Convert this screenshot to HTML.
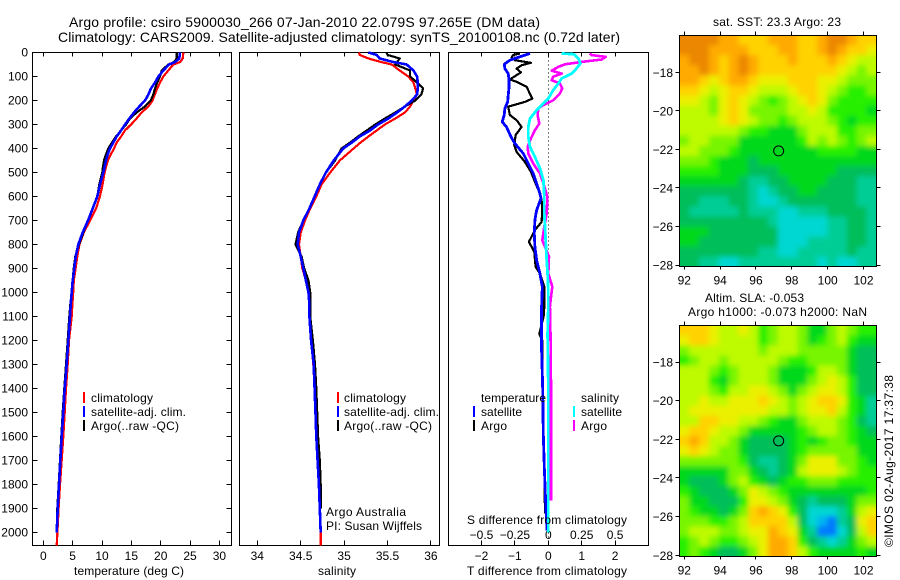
<!DOCTYPE html>
<html>
<head>
<meta charset="utf-8">
<title>Argo profile</title>
<style>
html,body{margin:0;padding:0;background:#fff;}
svg{display:block;}
text{font-family:"Liberation Sans",sans-serif;font-size:12px;fill:#000;}
.title{font-size:14px;}
</style>
</head>
<body>
<svg id="chart" xmlns="http://www.w3.org/2000/svg" width="900" height="580" viewBox="0 0 900 580">
<defs>
<clipPath id="clip-map1"><rect x="679.5" y="35.5" width="197" height="231"/></clipPath>
<clipPath id="clip-map2"><rect x="679.5" y="325.5" width="197" height="231"/></clipPath>
<filter id="soft1" filterUnits="userSpaceOnUse" x="650" y="5" width="250" height="290"><feGaussianBlur stdDeviation="2.6"/></filter>
<filter id="soft2" filterUnits="userSpaceOnUse" x="650" y="295" width="250" height="285"><feGaussianBlur stdDeviation="2.6"/></filter>
</defs>
<text class="title" x="69" y="27" textLength="471">Argo profile: csiro 5900030_266 07-Jan-2010 22.079S 97.265E (DM data)</text>
<text class="title" x="58" y="42" textLength="562">Climatology: CARS2009. Satellite-adjusted climatology: synTS_20100108.nc (0.72d later)</text>
<g id="map1"></g>
<g id="map2"></g>
<g id="axes"></g>
<g id="series"></g>

<text x="74" y="575" textLength="110">temperature (deg C)</text>
<text x="318" y="575" textLength="38">salinity</text>
<text x="467" y="524" textLength="160">S difference from climatology</text>
<text x="467" y="575" textLength="160">T difference from climatology</text>

<g>
<rect x="83" y="392" width="2" height="11" fill="#f00"/>
<rect x="83" y="406" width="2" height="11" fill="#00f"/>
<rect x="83" y="420" width="2" height="11" fill="#000"/>
<text x="91" y="402" textLength="62">climatology</text>
<text x="91" y="416" textLength="95">satellite-adj. clim.</text>
<text x="91" y="430" textLength="88">Argo(..raw -QC)</text>
</g>
<g>
<rect x="337" y="392" width="2" height="11" fill="#f00"/>
<rect x="337" y="406" width="2" height="11" fill="#00f"/>
<rect x="337" y="420" width="2" height="11" fill="#000"/>
<text x="344" y="402" textLength="62">climatology</text>
<text x="344" y="416" textLength="95">satellite-adj. clim.</text>
<text x="344" y="430" textLength="88">Argo(..raw -QC)</text>
</g>
<text x="326" y="516" textLength="80">Argo Australia</text>
<text x="326" y="530" textLength="96">PI: Susan Wijffels</text>
<g>
<rect x="473" y="406" width="2" height="11" fill="#00f"/>
<rect x="473" y="420" width="2" height="11" fill="#000"/>
<rect x="573" y="406" width="2" height="11" fill="#0ff"/>
<rect x="573" y="420" width="2" height="11" fill="#f0f"/>
<text x="481" y="402" textLength="65">temperature</text>
<text x="481" y="416" textLength="41">satellite</text>
<text x="481" y="430" textLength="26">Argo</text>
<text x="581" y="402" textLength="38">salinity</text>
<text x="581" y="416" textLength="41">satellite</text>
<text x="581" y="430" textLength="26">Argo</text>
</g>
<text x="713" y="26" textLength="128">sat. SST: 23.3 Argo: 23</text>
<text x="705" y="302" textLength="99">Altim. SLA: -0.053</text>
<text x="688" y="316" textLength="179">Argo h1000: -0.073 h2000: NaN</text>
<text transform="translate(893,547) rotate(-90)" textLength="172">©IMOS 02-Aug-2017 17:37:38</text>
</svg>
<script>
var depthTicks = [0,100,200,300,400,500,600,700,800,900,1000,1100,1200,1300,1400,1500,1600,1700,1800,1900,2000];
var temperatureTicks = [0,5,10,15,20,25,30];
var salinityTicks = [34,34.5,35,35.5,36];
var salinityTickLabels = ['34','34.5','35','35.5','36'];
var tDiffTicks = [-2,-1,0,1,2];
var sDiffTicks = [-0.5,-0.25,0,0.25,0.5];
var sDiffTickLabels = ['\u22120.5','\u22120.25','0','0.25','0.5'];
var lonTicks = [92,94,96,98,100,102];
var latTicks = [-18,-20,-22,-24,-26,-28];
var argoLon = [97.265];
var argoLat = [-22.079];

var tempDepths = [0,25,40,50,75,100,125,150,175,200,225,250,275,300,325,350,375,400,425,450,475,500,550,600,650,700,750,800,850,900,950,1000,1050,1100,1200,1300,1400,1500,1600,1700,1800,1900,2000,2055];
var tempClim = [23.86,23.75,23.3,22.15,21.3,20.45,19.9,19.4,19.0,18.6,17.9,16.75,15.9,14.95,13.9,13.25,12.5,12.05,11.5,11.0,10.7,10.45,10.1,9.65,9.0,7.95,6.9,6.15,5.8,5.5,5.2,5.1,4.95,4.83,4.37,4.15,3.87,3.65,3.4,3.13,2.85,2.6,2.4,2.28];
var tempSat = [23.29,23.17,22.43,21.41,20.45,19.6,19.03,18.35,17.9,17.32,16.35,15.45,14.66,13.92,13.24,12.5,11.93,11.36,10.97,10.68,10.46,10.22,9.66,9.2,8.42,7.62,6.71,5.96,5.52,5.28,5.0,4.84,4.67,4.55,4.26,3.99,3.65,3.41,3.13,2.9,2.67,2.45,2.28];
var tempArgo = [22.73,22.73,22.27,21.3,20.17,19.88,19.42,19.03,18.74,18.3,17.32,15.9,14.77,14.09,13.24,12.38,11.7,11.07,10.68,10.34,10.17,10.05,9.54,9.2,8.42,7.62,6.81,6.08,5.45,5.18,5.0,4.84,4.6,4.43,4.15,3.87,3.58,3.3,3.07,2.85,2.62,2.38,2.28];

var salDepths = [0,10,25,40,50,75,100,125,150,175,200,225,250,275,300,325,350,375,400,450,500,550,600,650,700,750,800,850,900,950,1000,1050,1100,1200,1300,1400,1500,1600,1700,1800,1900,2000,2055];
var salClim = [35.17,35.18,35.28,35.43,35.55,35.64,35.74,35.80,35.82,35.84,35.80,35.76,35.70,35.59,35.47,35.375,35.28,35.19,35.11,34.95,34.84,34.74,34.68,34.61,34.55,34.50,34.48,34.50,34.52,34.56,34.59,34.60,34.60,34.62,34.645,34.66,34.67,34.68,34.695,34.71,34.72,34.73,34.73];
var salSat = [35.28,35.375,35.41,35.57,35.72,35.80,35.84,35.85,35.85,35.84,35.78,35.70,35.61,35.51,35.39,35.30,35.18,35.09,34.99,34.88,34.79,34.72,34.66,34.60,34.53,34.48,34.465,34.50,34.53,34.56,34.59,34.60,34.60,34.62,34.65,34.66,34.67,34.68,34.695,34.71,34.72,34.73];
var salArgo = [35.49,35.50,35.64,35.61,35.59,35.76,35.76,35.84,35.91,35.89,35.82,35.70,35.59,35.47,35.36,35.26,35.16,35.07,34.97,34.895,34.79,34.72,34.66,34.60,34.53,34.47,34.44,34.51,34.54,34.59,34.61,34.61,34.61,34.64,34.665,34.68,34.69,34.70,34.72,34.73,34.735];

var tDiffArgoDepths = [4,10,21,32,43,53,67,83,94,112,122,143,192,206,226,261,282,310,344,386,414,456,497,546,588,615,657,706,740,789,831,893,921,976,1060,1100,1172,1200,1400,1600,1800,1920];
var tDiffArgo = [-0.85,-1.05,-1.10,-1.0,-0.52,-0.80,-0.95,-0.82,-0.95,-1.15,-0.95,-0.65,-0.48,-0.70,-1.2,-1.15,-0.95,-0.80,-0.98,-1.02,-0.95,-0.70,-0.52,-0.38,-0.25,-0.20,-0.18,-0.20,-0.40,-0.58,-0.42,-0.38,-0.25,-0.12,-0.12,-0.14,-0.27,-0.18,-0.17,-0.15,-0.11,-0.10];
var tDiffSatDepths = [4,18,32,49,67,88,108,150,206,233,261,289,310,351,379,421,463,504,546,588,608,657,699,754,810,865,921,976,1060,1242,1380,1589,1727,1867,1992];
var tDiffSat = [-0.55,-0.85,-1.15,-1.32,-1.30,-1.20,-1.18,-1.18,-1.22,-1.30,-1.32,-1.38,-1.25,-1.12,-1.0,-0.75,-0.60,-0.45,-0.35,-0.25,-0.22,-0.35,-0.40,-0.42,-0.40,-0.35,-0.25,-0.18,-0.20,-0.20,-0.17,-0.15,-0.12,-0.08,-0.04];
var sDiffSatDepths = [4,7,25,46,67,88,108,129,157,192,212,240,275,310,351,393,435,483,532,601,671,726,810,865,921,990,1060,1172,1400,1700,2000];
var sDiffSat = [0.10,0.19,0.225,0.24,0.21,0.175,0.10,0.075,0.037,0,-0.037,-0.087,-0.137,-0.15,-0.15,-0.137,-0.10,-0.062,-0.037,-0.03,-0.03,-0.025,-0.017,-0.012,-0.005,0,0,-0.005,0,0,0];
var sDiffArgoDepths = [4,11,18,29,39,49,60,76,88,101,115,129,150,171,199,219,233,261,296,324,358,393,421,463,504,546,601,671,726,782,810,851,921,976,1018,1060,1102,1380,1589,1867];
var sDiffArgo = [0.31,0.325,0.43,0.40,0.25,0.125,0.075,0.025,0.10,0.037,0.025,0.087,0.105,0.087,0.037,-0.037,-0.075,-0.08,-0.067,-0.10,-0.13,-0.155,-0.15,-0.112,-0.062,-0.037,-0.007,-0.012,-0.03,-0.045,-0.025,0.005,0,0.03,0.02,0.012,0.015,0.02,0.02,0.02];

var sstLevels = [
[12,12,12,12,11,11,10,10,10,11,11,11,10,10,11,12,12,11,10,10],
[12,12,12,11,11,11,11,10,10,10,11,11,10,10,11,12,11,10,10,9],
[11,12,12,11,10,11,12,11,10,10,10,11,10,10,10,11,10,9,8,8],
[11,11,12,11,10,11,12,11,10,10,10,10,10,10,10,10,9,8,7,8],
[11,11,10,9,10,11,11,10,9,9,9,10,10,10,9,9,8,7,7,7],
[10,10,9,8,9,10,10,9,8,8,8,9,10,10,9,8,7,6,6,7],
[9,9,8,7,9,10,9,8,7,6,7,8,9,10,9,7,6,6,6,6],
[8,8,8,7,9,10,9,7,7,7,7,8,8,9,8,6,6,6,6,5],
[8,8,8,8,9,10,9,8,7,7,6,7,8,8,8,7,6,5,6,6],
[8,8,8,8,8,8,7,6,6,5,5,5,7,8,8,8,6,6,7,7],
[7,8,8,7,7,7,5,5,5,5,5,5,6,8,7,8,7,6,7,8],
[8,8,7,7,7,6,5,5,5,5,5,5,5,5,6,6,6,6,5,5],
[7,7,7,6,5,5,5,4,5,5,5,5,5,5,5,5,5,5,5,5],
[6,6,6,6,5,5,5,4,4,4,5,5,5,5,5,5,4,4,4,4],
[5,5,5,5,5,5,4,3,3,4,4,5,5,5,5,4,4,4,3,3],
[4,4,4,4,4,4,4,3,2,3,4,4,5,5,4,4,4,4,3,3],
[4,4,3,3,3,4,4,3,2,2,3,4,4,4,4,4,4,4,3,3],
[4,3,3,3,3,3,4,3,3,3,2,2,3,3,3,4,4,4,4,3],
[4,4,4,4,4,4,4,4,4,3,2,2,2,2,2,3,3,4,4,3],
[5,5,5,4,4,4,4,4,4,4,2,2,2,2,2,3,3,4,4,3],
[5,5,4,4,4,4,4,4,4,4,2,2,2,3,3,3,3,4,4,3],
[4,4,4,4,4,4,4,4,3,3,2,2,3,3,3,3,3,4,3,3],
[4,4,3,3,2,2,3,3,3,3,3,3,3,3,2,3,2,2,3,3]
];
var slaLevels = [
[10,10,10,9,8,8,9,8,6,7,8,8,7,5,5,7,8,7,6,6],
[9,10,10,9,8,8,8,8,6,7,8,8,7,5,6,7,8,6,5,5],
[7,8,8,8,8,8,8,8,7,8,8,8,7,7,7,7,7,5,4,4],
[6,7,8,8,7,8,8,8,8,8,7,6,6,7,7,7,7,5,4,4],
[8,8,8,7,6,7,8,8,8,7,5,5,5,6,8,8,7,5,4,4],
[8,8,8,6,5,7,8,8,8,7,5,5,5,7,8,9,8,6,4,4],
[8,8,8,7,6,8,8,9,9,8,7,5,7,8,9,9,8,6,4,4],
[8,8,9,8,8,9,9,9,10,9,8,7,8,9,10,10,9,6,5,3],
[8,9,9,9,9,9,9,9,9,8,8,7,8,9,9,10,8,6,5,3],
[8,8,10,10,9,9,8,8,7,6,5,5,7,8,8,8,7,6,4,3],
[9,10,10,9,8,8,7,5,5,5,5,5,6,7,8,8,7,6,5,4],
[10,11,10,8,8,7,5,4,4,4,4,5,6,5,6,7,7,6,5,5],
[9,10,9,8,7,7,5,4,4,4,4,5,6,7,7,7,7,7,5,5],
[7,7,7,7,7,7,6,4,3,3,4,5,7,9,9,9,7,7,6,5],
[5,5,5,5,5,7,7,5,4,3,4,5,8,9,9,9,8,7,6,6],
[5,4,4,4,5,7,8,6,5,4,5,6,6,7,7,7,6,6,6,6],
[6,5,4,4,4,5,7,9,8,7,6,5,5,5,5,5,5,5,5,6],
[7,5,5,4,4,4,6,9,9,8,7,5,4,3,4,4,4,5,7,7],
[7,6,5,5,4,5,7,10,11,10,9,6,4,2,2,2,3,5,8,9],
[7,7,7,6,6,7,8,10,10,10,10,8,4,2,1,0,3,4,9,10],
[7,8,8,8,7,7,8,9,9,11,10,9,5,3,0,0,2,4,8,10],
[6,7,8,7,6,6,7,8,9,11,11,10,6,4,3,2,3,5,7,8],
[6,7,6,5,4,4,5,7,9,11,11,10,8,6,5,5,5,5,6,5]
];

var SVGNS = 'http://www.w3.org/2000/svg';
var levelColors = ['#0078ff','#00b4f0','#00d7d2','#00cd96','#00be5a','#00d81e','#28f000','#78f500','#beFA00','#ebf000','#ffd200','#ffaa00','#eb8700'];
function node(parent, tag, attrs, txt){
  var el = document.createElementNS(SVGNS, tag);
  for (var k in attrs) el.setAttribute(k, attrs[k]);
  if (txt !== undefined) el.textContent = txt;
  parent.appendChild(el);
  return el;
}
var DEPTH_Y0 = 52.5, DEPTH_K = 0.24, TOP = 52.5, BOTTOM = 545.5;
function depthY(d){ return DEPTH_Y0 + d * DEPTH_K; }
function tempX(t){ return 43.3 + t * 5.87; }
function salX(s){ return 257.3 + (s - 34) * 86.8; }
function tDiffX(t){ return 548.3 + t * 33.4; }
function sDiffX(s){ return 548.3 + s * 133.6; }
function lonX(lon){ return 684.3 + (lon - 92) * 17.92; }
function lat1Y(lat){ return 72.3 + (-18 - lat) * 19.27; }
function lat2Y(lat){ return 362 + (-18 - lat) * 19.33; }
var axes = document.getElementById('axes');
var seriesLayer = document.getElementById('series');
var panels = [[32.5,231.5,'temperature-panel'],[239.5,439.5,'salinity-panel'],[448.5,648.5,'difference-panel']];
panels.forEach(function(p){
  var r = node(axes,'rect',{x:p[0],y:TOP,width:p[1]-p[0],height:BOTTOM-TOP,fill:'none',stroke:'#000','stroke-width':1,'shape-rendering':'crispEdges'});
  
  
});
function tickLine(x1,y1,x2,y2){
  return node(axes,'line',{x1:x1,y1:y1,x2:x2,y2:y2,stroke:'#000','stroke-width':1,'shape-rendering':'crispEdges'});
}
depthTicks.forEach(function(d){
  var y = Math.round(depthY(d) - 0.5) + 0.5;
  var a = tickLine(32.5,y,37.5,y);
  
  
  var b = tickLine(226.5,y,231.5,y);
  
  
  var t = node(axes,'text',{x:28,y:depthY(d)+4,'text-anchor':'end'},String(d));
  
  
});
function xTicks(vals, labels, fn, labelY, tickName, labelName){
  vals.forEach(function(v,i){
    var x = Math.round(fn(v) - 0.5) + 0.5;
    var a = tickLine(x,TOP,x,TOP+4);
    
    
    var b = tickLine(x,BOTTOM-5,x,BOTTOM);
    
    
    var t = node(axes,'text',{x:fn(v),y:labelY,'text-anchor':'middle'},labels[i]);
    
    
  });
}
xTicks(temperatureTicks, temperatureTicks.map(String), tempX, 560, 'temperature-tick', 'temperature-tick-label');
xTicks(salinityTicks, salinityTickLabels, salX, 560, 'salinity-tick', 'salinity-tick-label');
xTicks(tDiffTicks, tDiffTicks.map(function(v){return String(v).replace('-','\u2212');}), tDiffX, 560, 't-difference-tick', 't-difference-tick-label');
sDiffTicks.forEach(function(v,i){
  var t = node(axes,'text',{x:sDiffX(v),y:539,'text-anchor':'middle'},sDiffTickLabels[i]);
  
  
});
var zeroLine = node(axes,'line',{x1:548.5,y1:TOP,x2:548.5,y2:BOTTOM,stroke:'#000','stroke-width':1,'stroke-dasharray':'1 3','shape-rendering':'crispEdges'});



function profile(depths, values, fn, color, width, name){
  var pts = values.map(function(v,i){ return fn(v).toFixed(1) + ',' + depthY(depths[i]).toFixed(1); }).join(' ');
  var el = node(seriesLayer,'polyline',{points:pts,fill:'none',stroke:color,'stroke-width':width,'shape-rendering':'crispEdges','stroke-linejoin':'round'});
  
  
}
profile(tempDepths, tempClim, tempX, '#f00', 2.2, 'temperature-climatology-line');
profile(tempDepths, tempArgo, tempX, '#000', 2.2, 'temperature-argo-line');
profile(tempDepths, tempSat, tempX, '#00f', 2.6, 'temperature-satellite-line');
profile(salDepths, salClim, salX, '#f00', 2.2, 'salinity-climatology-line');
profile(salDepths, salArgo, salX, '#000', 2.2, 'salinity-argo-line');
profile(salDepths, salSat, salX, '#00f', 2.6, 'salinity-satellite-line');
profile(tDiffArgoDepths, tDiffArgo, tDiffX, '#000', 2.2, 't-difference-argo-line');
profile(sDiffArgoDepths, sDiffArgo, sDiffX, '#f0f', 2.6, 's-difference-argo-line');
profile(tDiffSatDepths, tDiffSat, tDiffX, '#00f', 2.8, 't-difference-satellite-line');
profile(sDiffSatDepths, sDiffSat, sDiffX, '#0ff', 2.8, 's-difference-satellite-line');

function drawMap(groupId, levels, latY, cfg){
  var g = document.getElementById(groupId);
  var clip = node(g,'g',{'clip-path':'url(#'+cfg.clip+')'});
  
  
  var cells = node(clip,'g',{filter:'url(#'+cfg.filter+')'});
  
  
  var nr = levels.length, nc = levels[0].length;
  var dLon = (cfg.lonMax - cfg.lonMin) / nc, dLat = (cfg.latTop - cfg.latBottom) / nr;
  levels.forEach(function(row,r){
    row.forEach(function(v,c){
      var x1 = lonX(cfg.lonMin + c * dLon), x2 = lonX(cfg.lonMin + (c + 1) * dLon);
      var y1 = latY(cfg.latTop - r * dLat), y2 = latY(cfg.latTop - (r + 1) * dLat);
      if (c === 0) x1 -= 20;
      if (c === nc - 1) x2 += 20;
      if (r === 0) y1 -= 20;
      if (r === nr - 1) y2 += 20;
      var cell = node(cells,'rect',{x:x1,y:y1,width:x2-x1+0.5,height:y2-y1+0.5,fill:levelColors[v]});
      
      
    });
  });
  var frame = node(g,'rect',{x:679.5,y:cfg.top,width:197,height:cfg.bottom-cfg.top,fill:'none',stroke:'#000','stroke-width':1,'shape-rendering':'crispEdges'});
  
  
  lonTicks.forEach(function(lon){
    var x = Math.round(lonX(lon) - 0.5) + 0.5;
    var a = node(g,'line',{x1:x,y1:cfg.top-4,x2:x,y2:cfg.top,stroke:'#000','shape-rendering':'crispEdges'});
    
    
    var b = node(g,'line',{x1:x,y1:cfg.bottom,x2:x,y2:cfg.bottom+3,stroke:'#000','shape-rendering':'crispEdges'});
    
    
    var t = node(g,'text',{x:lonX(lon),y:cfg.bottom+18,'text-anchor':'middle'},String(lon));
    
    
  });
  latTicks.forEach(function(lat){
    var y = Math.round(latY(lat) - 0.5) + 0.5;
    var a = node(g,'line',{x1:675.5,y1:y,x2:679.5,y2:y,stroke:'#000','shape-rendering':'crispEdges'});
    
    
    var b = node(g,'line',{x1:876.5,y1:y,x2:880.5,y2:y,stroke:'#000','shape-rendering':'crispEdges'});
    
    
    var t = node(g,'text',{x:673,y:latY(lat)+4.5,'text-anchor':'end'},'\u2212'+Math.abs(lat));
    
    
  });
  var circle = node(g,'circle',{cx:lonX(argoLon[0]),cy:latY(argoLat[0]),r:5,fill:'none',stroke:'#000','stroke-width':1});
  
  
}
drawMap('map1', sstLevels, lat1Y, {clip:'clip-map1',filter:'soft1',lonMin:91.72,lonMax:102.72,latTop:-16.06,latBottom:-28.1,top:35.5,bottom:266.5});
drawMap('map2', slaLevels, lat2Y, {clip:'clip-map2',filter:'soft2',lonMin:91.72,lonMax:102.72,latTop:-16.11,latBottom:-28.06,top:325.5,bottom:556.5});
</script>
</body>
</html>
